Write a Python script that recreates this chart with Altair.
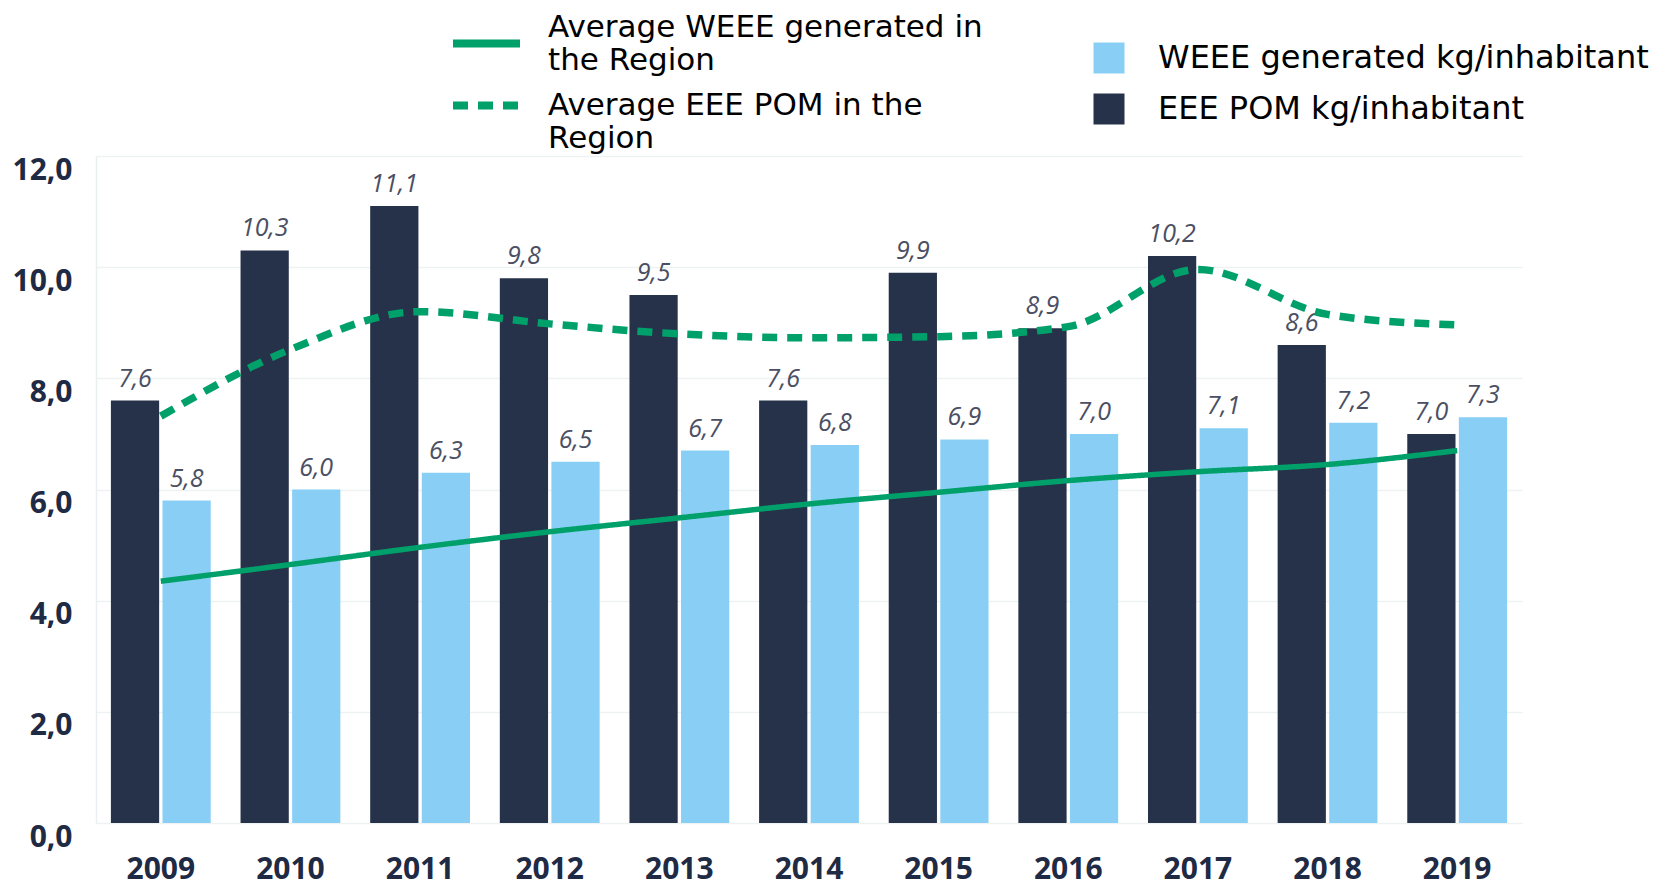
import altair as alt
import pandas as pd

years = ["2009", "2010", "2011", "2012", "2013", "2014", "2015", "2016", "2017", "2018", "2019"]
eee_pom = [7.6, 10.3, 11.1, 9.8, 9.5, 7.6, 9.9, 8.9, 10.2, 8.6, 7.0]
weee_gen = [5.8, 6.0, 6.3, 6.5, 6.7, 6.8, 6.9, 7.0, 7.1, 7.2, 7.3]
avg_weee_region = [4.35, 4.65, 4.96, 5.24, 5.49, 5.74, 5.95, 6.16, 6.32, 6.45, 6.70]
avg_eee_pom_region = [7.32, 8.52, 9.2, 8.98, 8.80, 8.73, 8.75, 8.93, 9.96, 9.15, 8.96]

bar_series = ["WEEE generated kg/inhabitant", "EEE POM kg/inhabitant"]
bar_colors = ["#89CFF5", "#263249"]
line_series = ["Average WEEE generated in the Region", "Average EEE POM in the Region"]
green = "#00A06A"

bars_df = pd.DataFrame(
    [{"year": y, "series": bar_series[1], "value": v} for y, v in zip(years, eee_pom)]
    + [{"year": y, "series": bar_series[0], "value": v} for y, v in zip(years, weee_gen)]
)
solid_df = pd.DataFrame({"year": years, "series": line_series[0], "value": avg_weee_region})
dashed_df = pd.DataFrame({"year": years, "series": line_series[1], "value": avg_eee_pom_region})

navy = "#1f2a44"
legend_font = "DejaVu Sans"

x_enc = alt.X(
    "year:N",
    scale=alt.Scale(paddingInner=0.23, paddingOuter=0.115),
    axis=alt.Axis(
        title=None, labelAngle=0, labelFont="Open Sans", labelFontSize=30,
        labelFontWeight="bold", labelColor=navy, labelPadding=31,
        domain=False, ticks=False, grid=False,
    ),
)
y_enc = alt.Y(
    "value:Q",
    scale=alt.Scale(domain=[0, 12], nice=False),
    axis=alt.Axis(
        title=None, values=[0, 2, 4, 6, 8, 10, 12],
        labelExpr="replace(format(datum.value, '.1f'), '.', ',')",
        labelFont="Open Sans", labelFontSize=30, labelFontWeight="bold",
        labelColor=navy, labelPadding=24, labelOffset=14,
        ticks=False, domain=True, domainColor="#e9eeee", domainWidth=1.5,
        grid=True, gridColor="#eef2f2", gridWidth=1.5,
    ),
)
xoff = alt.XOffset(
    "series:N",
    scale=alt.Scale(domain=[bar_series[1], bar_series[0]], paddingInner=0.065),
)

bars = alt.Chart(bars_df).mark_bar().encode(
    x=x_enc,
    xOffset=xoff,
    y=y_enc,
    color=alt.Color(
        "series:N",
        scale=alt.Scale(domain=bar_series, range=bar_colors),
        legend=alt.Legend(
            title=None, orient="none", legendX=997, legendY=-114,
            symbolType="square", symbolSize=961, symbolStrokeWidth=0,
            labelFont=legend_font, labelFontSize=32,
            labelColor="#000000", labelOffset=33, rowPadding=19,
            labelLimit=800, padding=0,
        ),
    ),
)

labels = alt.Chart(bars_df).transform_calculate(
    label="replace(format(datum.value, '.1f'), '.', ',')"
).mark_text(
    baseline="bottom", dy=-9, font="Open Sans", fontStyle="italic",
    fontSize=25, color="#4b4f63",
).encode(
    x=alt.X("year:N"),
    xOffset=alt.XOffset("series:N"),
    y=alt.Y("value:Q"),
    text="label:N",
)


def line_legend(legend_y, baseline, split_expr):
    return alt.Legend(
        title=None, orient="none", legendX=353, legendY=legend_y,
        symbolType="stroke", symbolStrokeColor=green, symbolStrokeWidth=8,
        symbolSize=4489, labelExpr=split_expr, labelBaseline=baseline,
        labelFont=legend_font, labelFontSize=31,
        labelColor="#000000", labelOffset=24,
        labelLimit=800, padding=0,
    )


solid = alt.Chart(solid_df).mark_line(
    interpolate="monotone", color=green, strokeWidth=5.5
).encode(
    x=alt.X("year:N"),
    y=alt.Y("value:Q"),
    strokeDash=alt.StrokeDash(
        "series:N",
        scale=alt.Scale(domain=[line_series[0]], range=[[1, 0]]),
        legend=line_legend(-150, "bottom", "['Average WEEE generated in', 'the Region']"),
    ),
)

dashed = alt.Chart(dashed_df).mark_line(
    interpolate="monotone", color=green, strokeWidth=7.5
).encode(
    x=alt.X("year:N"),
    y=alt.Y("value:Q"),
    strokeDash=alt.StrokeDash(
        "series:N",
        scale=alt.Scale(domain=[line_series[1]], range=[[15, 10]]),
        legend=line_legend(-88, "middle", "['Average EEE POM in the', 'Region']"),
    ),
)

chart = alt.layer(bars, labels, solid, dashed).resolve_scale(
    strokeDash="independent"
).properties(
    width=1426,
    height=667,
    padding={"left": 96, "top": 156, "right": 145, "bottom": 63},
    autosize=alt.AutoSizeParams(type="none"),
    background="white",
).configure_view(stroke=None)

chart.save("out.html", embed_options={"renderer": "svg", "actions": False})
